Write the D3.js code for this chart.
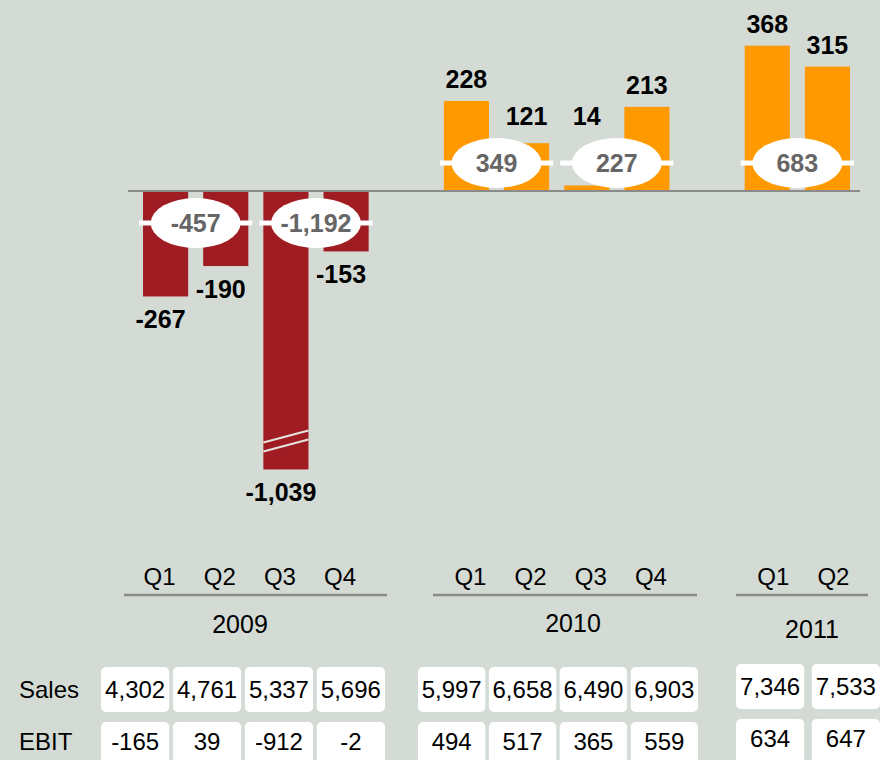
<html>
<head>
    <meta charset="utf-8">
    <title>EBIT by quarter</title>
    <script src="https://d3js.org/d3.v7.min.js"></script>
    <style>
        body { margin: 0; background: #d4dbd5; }
        text { font-family: "Liberation Sans", Arial, sans-serif; }
    </style>
</head>
<body>
    <svg id="chart"></svg>
    <script>
        // data
        var years = ["2009", "2010", "2011"];
        var quarters = [["Q1", "Q2", "Q3", "Q4"], ["Q1", "Q2", "Q3", "Q4"], ["Q1", "Q2"]];
        var ebitAdjusted = [-267, -190, -1039, -153, 228, 121, 14, 213, 368, 315];
        var halfYearTotals = [-457, -1192, 349, 227, 683];
        var sales = [4302, 4761, 5337, 5696, 5997, 6658, 6490, 6903, 7346, 7533];
        var ebit = [-165, 39, -912, -2, 494, 517, 365, 559, 634, 647];
        var rowLabels = ["Sales", "EBIT"];

        // layout per year group
        var groupLayout = [
            { line: [124, 387], yearX: 240, yearY: 633, qShift: -6, table: [101, 385], tableDy: 0 },
            { line: [433, 697], yearX: 573, yearY: 632, qShift: 4, table: [418, 698], tableDy: 0 },
            { line: [736, 868], yearX: 812, yearY: 638, qShift: 6, table: [736, 880], tableDy: -3 }
        ];

        var width = 880, height = 760;
        var breakAt = -705;   // bars below this are drawn cut
        var fmt = d3.formatLocale({ decimal: ".", thousands: ",", grouping: [3], currency: ["", ""], minus: "-" }).format(",");

        var items = [], slots = [], k = 0;
        years.forEach(function (yr, gi) {
            quarters[gi].forEach(function (q, qi) {
                items.push({ key: yr + q, year: gi, q: q, qi: qi, value: ebitAdjusted[k], sales: sales[k], ebit: ebit[k] });
                slots.push(yr + q);
                k++;
            });
            if (gi < years.length - 1) slots.push("gap" + gi);
        });

        var svg = d3.select("#chart").attr("width", width).attr("height", height);
        svg.append("rect").attr("width", width).attr("height", height).attr("fill", "#d4dbd5");

        var x = d3.scaleBand().domain(slots).range([135.5, 857.5]).paddingInner(0.25).paddingOuter(0.125);
        var y = d3.scaleLinear().domain([-1000, 400]).range([586, 33]);
        var bw = x.bandwidth();

        // bars
        svg.append("g").selectAll("rect")
            .data(items)
            .enter()
            .append("rect")
            .attr("x", function (d) { return x(d.key); })
            .attr("width", bw)
            .attr("y", function (d) { return y(Math.max(0, d.value)); })
            .attr("height", function (d) { return Math.abs(y(Math.max(d.value, breakAt)) - y(0)); })
            .attr("fill", function (d) { return d.year == 0 ? "#a01c23" : "#ff9900"; });

        // break marks
        items.filter(function (d) { return d.value < breakAt; }).forEach(function (d) {
            var yb = y(breakAt);
            [[-27, -39], [-18, -30]].forEach(function (o) {
                svg.append("line")
                    .attr("x1", x(d.key)).attr("x2", x(d.key) + bw)
                    .attr("y1", yb + o[0]).attr("y2", yb + o[1])
                    .attr("stroke", "#e4e4dc").attr("stroke-width", 2);
            });
        });

        // zero line
        svg.append("line")
            .attr("x1", 128).attr("x2", 860)
            .attr("y1", y(0)).attr("y2", y(0))
            .attr("stroke", "#8a8a8a").attr("stroke-width", 2);

        // half-year ellipses
        var pairs = [];
        years.forEach(function (yr, gi) {
            var g = items.filter(function (d) { return d.year == gi; });
            for (var i = 0; i < g.length; i += 2) pairs.push([g[i], g[i + 1]]);
        });
        pairs.forEach(function (p, i) {
            var total = halfYearTotals[i];
            var x0 = x(p[0].key), x1 = x(p[1].key) + bw;
            var cx = (x0 + x1) / 2;
            var cy = total < 0 ? y(0) + 32 : y(0) - 28;
            svg.append("rect").attr("x", x0 - 4).attr("width", x1 - x0 + 8)
                .attr("y", cy - 2.5).attr("height", 5).attr("fill", "white");
            svg.append("ellipse").attr("cx", cx).attr("cy", cy).attr("rx", 45).attr("ry", 25).attr("fill", "white");
            svg.append("text").attr("x", cx).attr("y", cy).attr("dy", "0.36em")
                .attr("text-anchor", "middle").attr("font-size", 25).attr("font-weight", "bold")
                .attr("fill", "#666").text(fmt(total));
        });

        // value labels
        var ellTop = y(0) - 28 - 25;
        svg.append("g").selectAll("text")
            .data(items)
            .enter()
            .append("text")
            .attr("x", function (d) { return x(d.key) + bw / 2 + (d.value < 0 ? -5 : 0); })
            .attr("y", function (d) {
                if (d.value < 0) return y(Math.max(d.value, breakAt)) + 32;
                return Math.min(y(d.value), ellTop) - 13;
            })
            .attr("text-anchor", "middle")
            .attr("font-size", 25)
            .attr("font-weight", "bold")
            .attr("fill", "black")
            .text(function (d) { return fmt(d.value); });

        // quarter labels, group lines, years
        svg.append("g").selectAll("text")
            .data(items)
            .enter()
            .append("text")
            .attr("x", function (d) { return x(d.key) + bw / 2 + groupLayout[d.year].qShift; })
            .attr("y", 585)
            .attr("text-anchor", "middle")
            .attr("font-size", 24)
            .text(function (d) { return d.q; });

        groupLayout.forEach(function (g, gi) {
            svg.append("line")
                .attr("x1", g.line[0]).attr("x2", g.line[1])
                .attr("y1", 595).attr("y2", 595)
                .attr("stroke", "#8a8a8a").attr("stroke-width", 2.5);
            svg.append("text")
                .attr("x", g.yearX).attr("y", g.yearY)
                .attr("text-anchor", "middle").attr("font-size", 25)
                .text(years[gi]);
        });

        // table
        var rowTop = [667, 722], rowBase = [698, 750];
        rowLabels.forEach(function (lab, ri) {
            svg.append("text").attr("x", 19).attr("y", rowBase[ri])
                .attr("font-size", 24).text(lab);
        });
        groupLayout.forEach(function (g, gi) {
            var cells = items.filter(function (d) { return d.year == gi; });
            var tx = d3.scaleBand().domain(cells.map(function (d) { return d.key; }))
                .range(g.table).paddingInner(cells.length > 2 ? 0.05 : 0.1);
            rowLabels.forEach(function (lab, ri) {
                var row = svg.append("g").selectAll("g")
                    .data(cells)
                    .enter()
                    .append("g");
                row.append("rect")
                    .attr("x", function (d) { return tx(d.key); })
                    .attr("y", rowTop[ri] + g.tableDy)
                    .attr("width", tx.bandwidth())
                    .attr("height", 45)
                    .attr("rx", 5)
                    .attr("fill", "white");
                row.append("text")
                    .attr("x", function (d) { return tx(d.key) + tx.bandwidth() / 2; })
                    .attr("y", rowBase[ri] + g.tableDy)
                    .attr("text-anchor", "middle")
                    .attr("font-size", 24)
                    .text(function (d) { return fmt(ri == 0 ? d.sales : d.ebit); });
            });
        });
    </script>
</body>
</html>
